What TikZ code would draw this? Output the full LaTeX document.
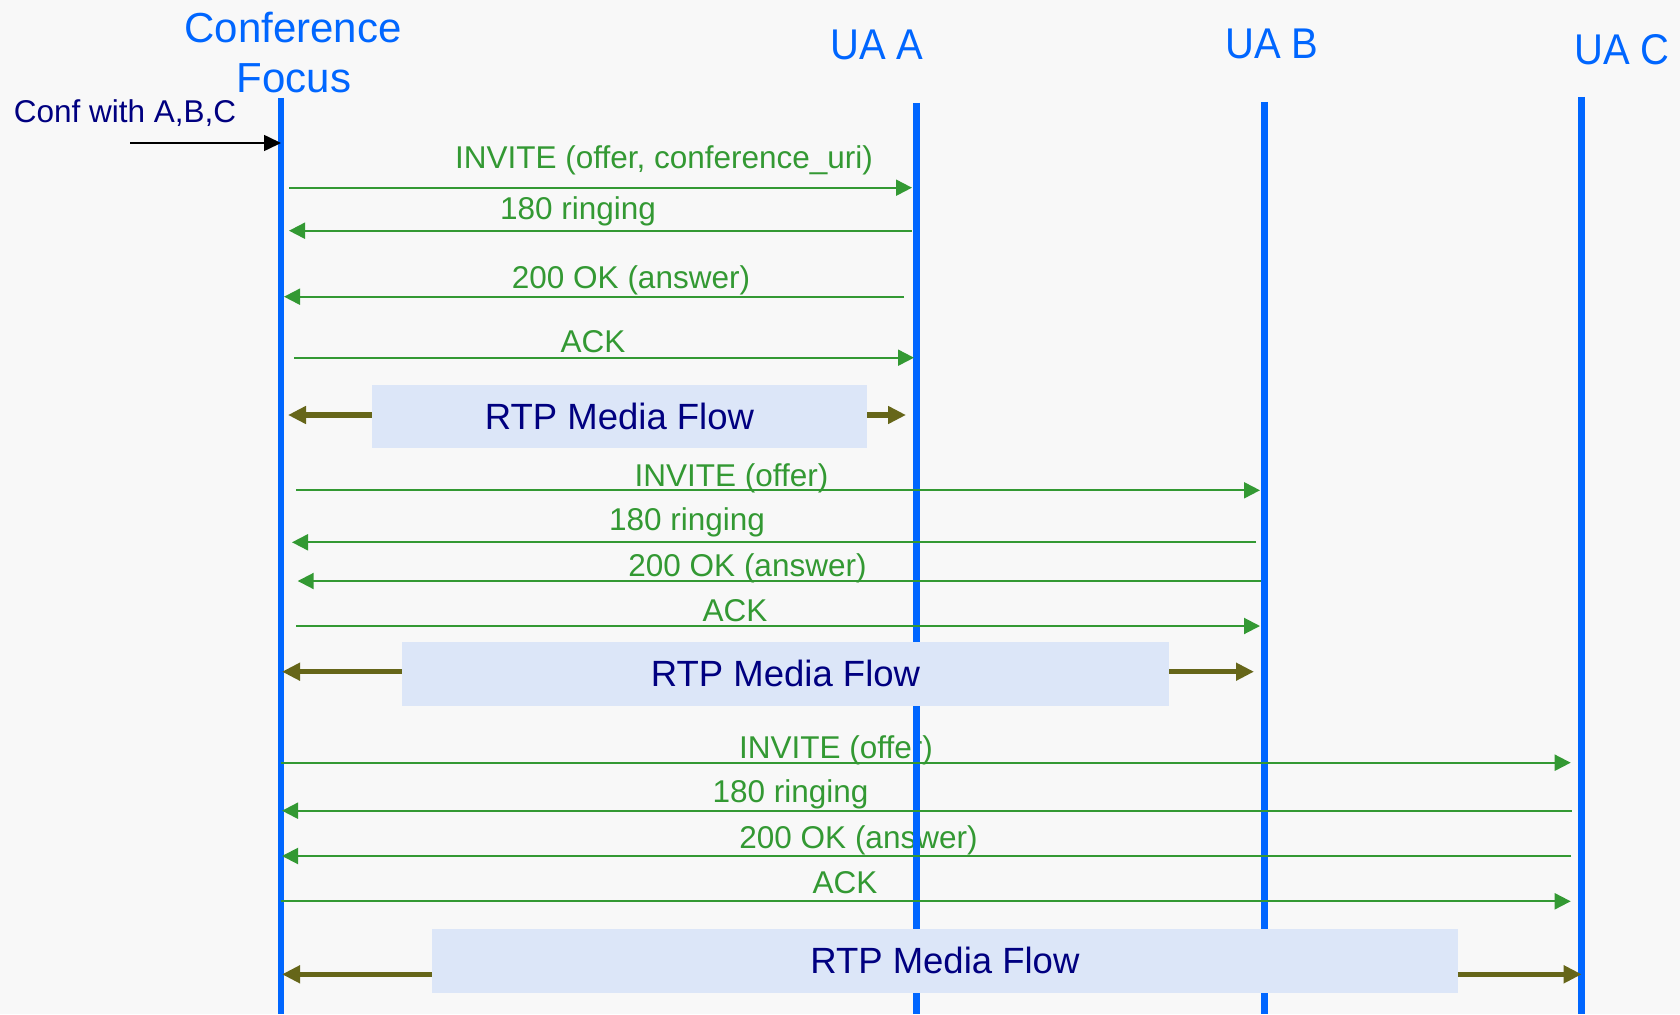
\documentclass[tikz,border=0pt]{standalone}
\usepackage{fontspec}
\setmainfont{Liberation Sans}
\newfontfamily\uafont[FakeStretch=0.93]{Liberation Sans}
\usetikzlibrary{arrows.meta}

\definecolor{bg}{HTML}{F8F8F8}
\definecolor{lifeblue}{HTML}{0066FF}
\definecolor{msggreen}{HTML}{339933}
\definecolor{rtpolive}{HTML}{666619}
\definecolor{rtpfill}{HTML}{DCE6F8}
\definecolor{navytext}{HTML}{000080}

\begin{document}
\begin{tikzpicture}[x=1pt,y=-1pt,
  hdr/.style={text=lifeblue, font=\fontsize{42}{48}\selectfont, anchor=base, inner sep=0pt},
  uahdr/.style={hdr, font=\uafont\fontsize{43}{49}\selectfont},
  lifeline/.style={draw=lifeblue, line width=7pt},
  msglabel/.style={text=msggreen, font=\fontsize{31.5}{36}\selectfont, anchor=base, inner sep=0pt},
  msg/.style={draw=msggreen, line width=2pt, -{Triangle[length=16pt,width=16pt]}},
  rtpbox/.style={fill=rtpfill, inner sep=0pt, text=navytext, font=\fontsize{36.5}{42}\selectfont},
  rtp/.style={draw=rtpolive, line width=5.5pt, -{Triangle[length=18pt,width=17pt]}},
  trigger/.style={draw=black, line width=1.6pt, -{Triangle[length=17pt,width=16pt]}},
  triglabel/.style={text=navytext, font=\fontsize{31.5}{36}\selectfont, anchor=base, inner sep=0pt}
]
% canvas
\fill[bg] (0,0) rectangle (1680,1014);
\useasboundingbox (0,0) rectangle (1680,1014);

% participant headings
\node[hdr] (focusA) at (293,42.7) {Conference};
\node[hdr] (focusB) at (294,93) {Focus};
\node[uahdr] (uaA) at (877,59.5) {UA A};
\node[uahdr] (uaB) at (1272,58.3) {UA B};
\node[uahdr] (uaC) at (1622,65) {UA C};

% message labels (set under the lifelines)
\node[msglabel] (l1) at (664,168) {INVITE (offer, conference\_uri)};
\node[msglabel] (l2) at (578,219) {180 ringing};
\node[msglabel] (l3) at (631,288) {200 OK (answer)};
\node[msglabel] (l4) at (593,352) {ACK};
\node[msglabel] (l6) at (731.5,486.5) {INVITE (offer)};
\node[msglabel] (l7) at (687,530.7) {180 ringing};
\node[msglabel] (l8) at (747.5,576) {200 OK (answer)};
\node[msglabel] (l9) at (735,621.7) {ACK};
\node[msglabel] (l11) at (836,758) {INVITE (offer)};
\node[msglabel] (l12) at (790.5,802.7) {180 ringing};
\node[msglabel] (l13) at (858.5,848.3) {200 OK (answer)};
\node[msglabel] (l14) at (845,893.3) {ACK};

% lifelines
\coordinate (lfTop) at (281,98);    \coordinate (lfBot) at (281,1014);
\coordinate (laTop) at (916.5,103); \coordinate (laBot) at (916.5,1014);
\coordinate (lbTop) at (1264.5,102);\coordinate (lbBot) at (1264.5,1014);
\coordinate (lcTop) at (1581.5,97); \coordinate (lcBot) at (1581.5,1014);
\draw[lifeline, line width=6pt] (lfTop) -- (lfBot);
\draw[lifeline] (laTop) -- (laBot);
\draw[lifeline] (lbTop) -- (lbBot);
\draw[lifeline] (lcTop) -- (lcBot);

% incoming request to the focus
\node[triglabel] (conf) at (125,123) {Conf with A,B,C};
\coordinate (confFrom) at (130,143);
\coordinate (confTo) at (281,143);
\draw[trigger] (confFrom) -- (confTo);

% media flow boxes
\node[rtpbox, minimum width=495pt, minimum height=63pt] (rtp1) at (619.5,416.5) {RTP Media Flow};
\node[rtpbox, minimum width=767pt, minimum height=63.7pt] (rtp2) at (785.5,673.85) {RTP Media Flow};
\node[rtpbox, minimum width=1025.7pt, minimum height=63.7pt] (rtp3) at (944.85,960.85) {RTP Media Flow};

% dialog with UA A
\coordinate (m1a) at (289,187.7);   \coordinate (m1b) at (912,187.7);
\coordinate (m2a) at (912,230.7);   \coordinate (m2b) at (289,230.7);
\coordinate (m3a) at (904,296.7);   \coordinate (m3b) at (284,296.7);
\coordinate (m4a) at (294,357.7);   \coordinate (m4b) at (914,357.7);
\draw[msg] (m1a) -- (m1b);
\draw[msg] (m2a) -- (m2b);
\draw[msg] (m3a) -- (m3b);
\draw[msg] (m4a) -- (m4b);
\coordinate (r1L) at (288,415);     \coordinate (r1R) at (906,415);
\draw[rtp] (rtp1.west |- r1L) -- (r1L);
\draw[rtp] (rtp1.east |- r1R) -- (r1R);

% dialog with UA B
\coordinate (m6a) at (296,490.3);   \coordinate (m6b) at (1260,490.3);
\coordinate (m7a) at (1256,542.3);  \coordinate (m7b) at (292,542.3);
\coordinate (m8a) at (1261,581);    \coordinate (m8b) at (297.7,581);
\coordinate (m9a) at (296,626);     \coordinate (m9b) at (1260,626);
\draw[msg] (m6a) -- (m6b);
\draw[msg] (m7a) -- (m7b);
\draw[msg] (m8a) -- (m8b);
\draw[msg] (m9a) -- (m9b);
\coordinate (r2L) at (282,671.7);   \coordinate (r2R) at (1254,671.7);
\draw[rtp] (rtp2.west |- r2L) -- (r2L);
\draw[rtp] (rtp2.east |- r2R) -- (r2R);

% dialog with UA C
\coordinate (m11a) at (281,762.7);  \coordinate (m11b) at (1570.7,762.7);
\coordinate (m12a) at (1571.7,810.7);\coordinate (m12b) at (282,810.7);
\coordinate (m13a) at (1571,856);   \coordinate (m13b) at (282,856);
\coordinate (m14a) at (281,901.3);  \coordinate (m14b) at (1570.7,901.3);
\draw[msg] (m11a) -- (m11b);
\draw[msg] (m12a) -- (m12b);
\draw[msg] (m13a) -- (m13b);
\draw[msg] (m14a) -- (m14b);
\coordinate (r3L) at (282,974.3);   \coordinate (r3R) at (1581.7,974.3);
\draw[rtp] (rtp3.west |- r3L) -- (r3L);
\draw[rtp] (rtp3.east |- r3R) -- (r3R);
\end{tikzpicture}
\end{document}
